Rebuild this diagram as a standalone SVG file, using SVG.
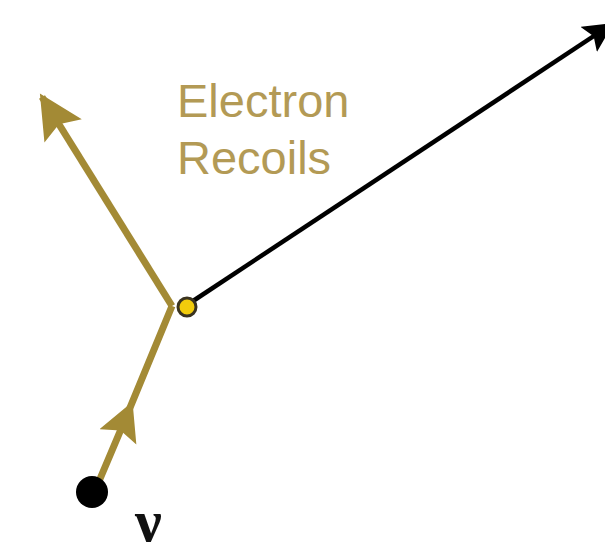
<svg xmlns="http://www.w3.org/2000/svg" width="605" height="555" viewBox="0 0 605 555">
<style>
.gold{stroke:#a38a35;stroke-width:7;fill:none;stroke-linecap:butt;stroke-linejoin:miter}
.lbl{font-family:"Liberation Sans",Arial,sans-serif;font-size:47px;fill:#b39a55}
</style>
<defs>
<marker id="ag" markerUnits="userSpaceOnUse" markerWidth="50" markerHeight="50" refX="40" refY="22" orient="auto">
<path d="M0,0 L44,22 L0,44 L8,22 Z" fill="#a38a35"/>
</marker>
<marker id="am" markerUnits="userSpaceOnUse" markerWidth="50" markerHeight="50" refX="20" refY="20" orient="auto">
<path d="M0,0 L38,20 L0,40 L7,20 Z" fill="#a38a35"/>
</marker>
<marker id="ab" markerUnits="userSpaceOnUse" markerWidth="40" markerHeight="40" refX="28" refY="15" orient="auto">
<path d="M0,0 L30,15 L0,30 L6,15 Z" fill="#000"/>
</marker>
</defs>
<rect width="605" height="555" fill="#fff"/>
<g id="connectors">
<path class="gold" d="M97,486 L125.6,418.4 L172,306" marker-mid="url(#am)"/>
<line class="gold" x1="172" y1="306" x2="42" y2="97" marker-end="url(#ag)"/>
<line x1="193" y1="301" x2="612" y2="24" stroke="#000" stroke-width="4.5" marker-end="url(#ab)"/>
</g>
<g id="vertex"><circle cx="187" cy="307" r="9" fill="#f2cc0c" stroke="#3a3320" stroke-width="3"/></g>
<g id="source"><circle cx="92" cy="492" r="16" fill="#000"/></g>
<g id="nu"><text x="135" y="541" font-family="'Liberation Serif',serif" font-weight="bold" font-size="60" fill="#111">ν</text></g>
<g id="label"><text class="lbl" x="177" y="117">Electron</text><text class="lbl" x="177" y="174">Recoils</text></g>
</svg>
